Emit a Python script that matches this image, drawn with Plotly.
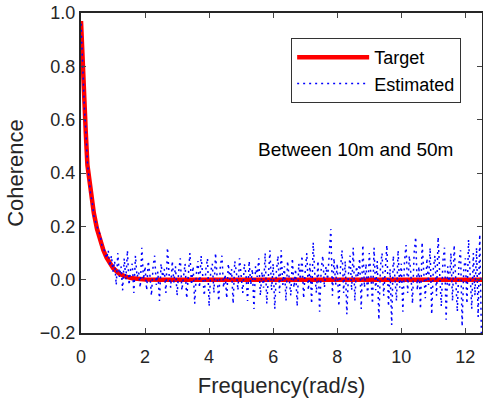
import plotly.graph_objects as go

# target coherence curve
target_x = [0, 0.05, 0.1, 0.15, 0.2, 0.3, 0.4, 0.5, 0.6, 0.7, 0.8, 0.9, 1.0,
            1.2, 1.4, 1.6, 1.8, 2.0, 2.5, 12.52]
target_y = [0.97, 0.80, 0.67, 0.55, 0.43, 0.33, 0.25, 0.19, 0.145, 0.11, 0.082,
            0.06, 0.044, 0.022, 0.011, 0.005, 0.002, 0.001, 0.0, 0.0]

# estimated coherence, one value every 0.05 rad/s from 0 to 12.5
est_y = [
    0.96, 0.79, 0.66, 0.56, 0.44, 0.38, 0.32, 0.29, 0.24, 0.22, 0.20, 0.18, 0.17, 0.13, 0.12, 0.10, 0.08, 0.11, 0.05, 0.09, 0.03,
    0.07, -0.02, 0.10, 0.01, 0.05, -0.04, 0.08, 0.00, 0.11, -0.02, 0.04, 0.06, -0.05, 0.09, 0.01, 0.03, -0.03, 0.12, 0.00, 0.05,
    -0.04, 0.07, 0.02, -0.06, 0.05, 0.09, -0.02, 0.03, -0.08, 0.06, 0.01, 0.04, -0.05, 0.12, 0.02, -0.03, 0.07, -0.01, 0.05, -0.06,
    0.03, 0.08, -0.04, 0.01, 0.06, -0.07, 0.04, 0.10, -0.02, 0.05, -0.09, 0.02, 0.07, -0.03, 0.09, 0.00, -0.06, 0.04, 0.08, -0.10,
    0.03, 0.06, -0.05, 0.10, 0.01, -0.08, 0.05, 0.09, -0.03, 0.02, -0.07, 0.06, 0.00, 0.04, -0.09, 0.07, 0.03, -0.04, 0.08, 0.01,
    -0.05, 0.06, 0.02, -0.08, 0.07, -0.02, 0.04, -0.11, 0.05, 0.01, 0.08, -0.06, 0.03, -0.03, 0.10, -0.09, 0.02, 0.11, -0.04, 0.06,
    -0.11, 0.03, 0.09, -0.05, 0.11, -0.02, 0.05, -0.08, 0.07, 0.01, -0.06, 0.08, -0.03, 0.04, -0.10, 0.06, 0.00, 0.09, -0.07, 0.03,
    0.10, -0.04, 0.06, -0.09, 0.14, 0.02, -0.05, 0.07, -0.12, 0.04, 0.09, -0.03, 0.05, 0.00, 0.10, 0.19, -0.06, 0.08, -0.02, 0.06,
    -0.10, 0.04, 0.11, -0.05, 0.07, -0.13, 0.02, 0.09, -0.04, 0.12, -0.08, 0.05, 0.01, 0.08, -0.11, 0.13, -0.03, 0.06, -0.07, 0.10,
    0.02, -0.09, 0.12, -0.04, 0.07, -0.15, 0.05, 0.10, -0.06, 0.03, 0.13, -0.10, 0.04, -0.17, 0.09, 0.01, -0.08, 0.11, -0.03, 0.06,
    -0.12, 0.07, 0.13, -0.05, 0.09, 0.02, -0.09, 0.10, 0.16, -0.04, 0.05, -0.11, 0.14, 0.03, -0.07, 0.08, -0.02, 0.12, -0.13, 0.04,
    0.09, -0.06, 0.16, 0.02, -0.10, 0.07, 0.12, -0.15, 0.05, -0.03, 0.10, -0.08, 0.13, 0.00, -0.12, 0.06, 0.11, -0.175, 0.04, 0.08,
    -0.09, 0.15, 0.03, -0.11, 0.10, -0.06, 0.12, -0.14, 0.17, -0.20,
]
est_x = [i * 0.05 for i in range(len(est_y))]

x_ticks = [0, 2, 4, 6, 8, 10, 12]
y_ticks = [-0.2, 0.0, 0.2, 0.4, 0.6, 0.8, 1.0]

axis_col = '#262626'
font = 'Liberation Sans, Arial, sans-serif'

fig = go.Figure()
fig.add_trace(go.Scatter(x=target_x, y=target_y, mode='lines', name='Target',
                         line=dict(color='#ff0000', width=4.5)))
fig.add_trace(go.Scatter(x=est_x, y=est_y, mode='lines', name='Estimated',
                         line=dict(color='#0000ff', width=1.5, dash='2px,4px')))

fig.add_annotation(x=0.933, y=0.572, xref='paper', yref='paper', xanchor='right',
                   text='Between 10m and 50m', showarrow=False,
                   font=dict(size=19, color='black', family=font))

fig.update_xaxes(range=[0, 12.52], tickvals=x_ticks, ticks='inside', ticklen=5,
                 showline=True, linecolor=axis_col, linewidth=2, mirror='ticks',
                 showgrid=False, zeroline=False, automargin=False,
                 ticklabelstandoff=6,
                 title=dict(text='Frequency(rad/s)', font=dict(size=22, color=axis_col), standoff=12),
                 tickfont=dict(size=18, color=axis_col))
fig.update_yaxes(range=[-0.2, 1.0], tickvals=y_ticks, tickformat='.1f', ticks='inside', ticklen=5,
                 showline=True, linecolor=axis_col, linewidth=2, mirror='ticks',
                 showgrid=False, zeroline=False, automargin=False,
                 title=dict(text='Coherence', font=dict(size=22, color=axis_col), standoff=10),
                 tickfont=dict(size=18, color=axis_col))

fig.update_layout(width=483, height=403, plot_bgcolor='white', paper_bgcolor='white',
                  font=dict(family=font),
                  margin=dict(l=81, r=1, t=13, b=70),
                  legend=dict(x=0.948, y=0.922, xanchor='right', yanchor='top',
                              bordercolor='#333333', borderwidth=1, bgcolor='white',
                              itemwidth=72,
                              font=dict(size=18, color='black')))

# page body has a default 8px margin; drop it so the figure sits at the window corner
fig.write_html("out.html", config={'displayModeBar': False},
               post_script="document.body.style.margin='0';")
